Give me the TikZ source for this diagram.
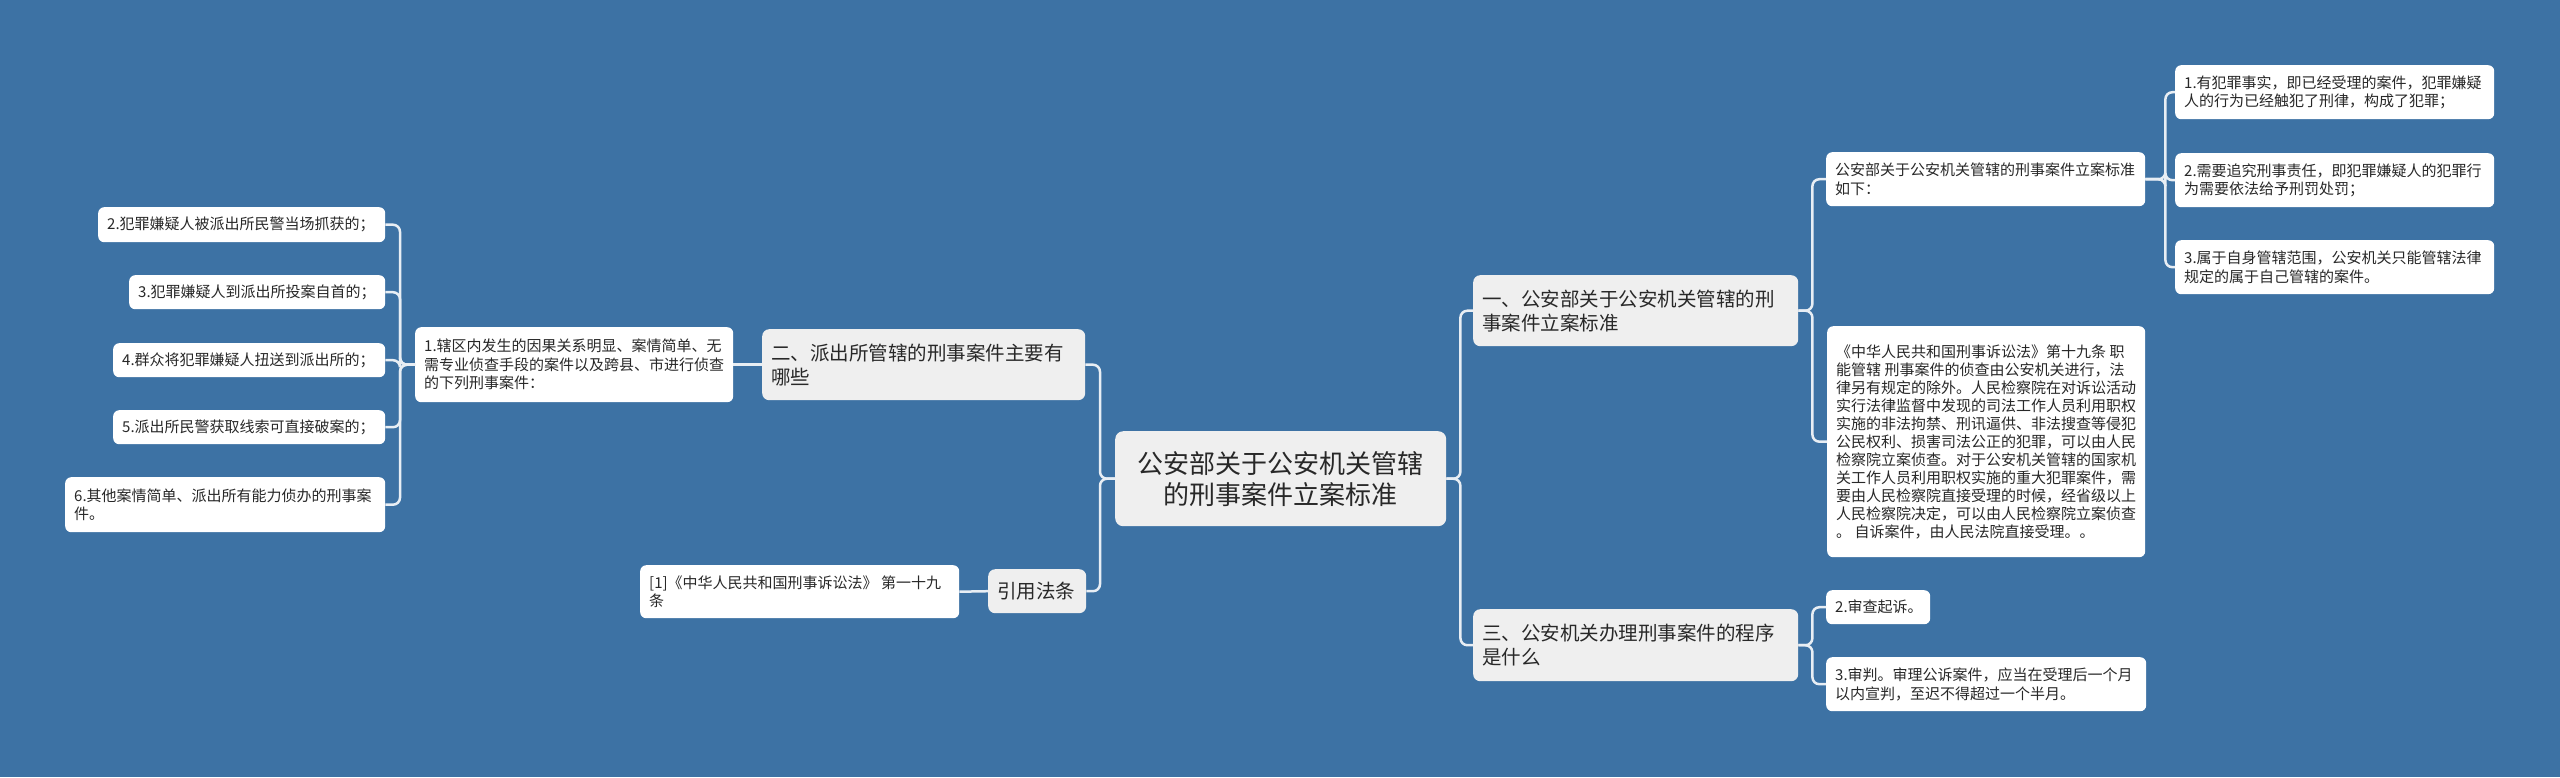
\documentclass[tikz,border=0pt]{standalone}
\usepackage{fontspec}
\newfontfamily\cjk{Noto Sans CJK SC}
\definecolor{bg}{RGB}{61,114,164}
\definecolor{nodegray}{RGB}{239,239,239}
\definecolor{txt}{RGB}{40,40,40}
\definecolor{linec}{RGB}{232,238,244}
\begin{document}
\begin{tikzpicture}[x=1pt,y=-1pt,
  base/.style={rounded corners=6pt, inner xsep=9pt, inner ysep=0pt, anchor=north west, align=flush left, text=txt, font=\cjk\fontsize{15}{18.5}\selectfont},
  leaf/.style={base, fill=white},
  mid/.style={base, fill=nodegray, rounded corners=7pt, font=\cjk\fontsize{19.5}{24}\selectfont},
  conn/.style={draw=linec, line width=2.5pt, rounded corners=7pt}]
\useasboundingbox (0,0) rectangle (2560,777);
\fill[bg] (0,0) rectangle (2560,777);

% root
\node[mid, align=center, rounded corners=8pt, font=\cjk\fontsize{26}{31}\selectfont, text width=313pt, minimum height=95pt] (root) at (1115,431) {公安部关于公安机关管辖\\的刑事案件立案标准};

% right side
\node[mid, text width=307pt, minimum height=71pt] (b1) at (1473,275) {一、公安部关于公安机关管辖的刑\\事案件立案标准};
\node[leaf, text width=301pt, minimum height=54pt] (A) at (1826,152) {公安部关于公安机关管辖的刑事案件立案标准\\如下：};
\node[leaf, text width=301pt, minimum height=54pt] (L1) at (2175,65) {1.有犯罪事实，即已经受理的案件，犯罪嫌疑\\人的行为已经触犯了刑律，构成了犯罪；};
\node[leaf, text width=301pt, minimum height=54pt] (L2) at (2175,153) {2.需要追究刑事责任，即犯罪嫌疑人的犯罪行\\为需要依法给予刑罚处罚；};
\node[leaf, text width=301pt, minimum height=54pt] (L3) at (2175,240) {3.属于自身管辖范围，公安机关只能管辖法律\\规定的属于自己管辖的案件。};
\node[leaf, text width=300pt, minimum height=231pt, font=\cjk\fontsize{15}{18}\selectfont] (B) at (1827,326) {《中华人民共和国刑事诉讼法》第十九条 职\\能管辖 刑事案件的侦查由公安机关进行，法\\律另有规定的除外。人民检察院在对诉讼活动\\实行法律监督中发现的司法工作人员利用职权\\实施的非法拘禁、刑讯逼供、非法搜查等侵犯\\公民权利、损害司法公正的犯罪，可以由人民\\检察院立案侦查。对于公安机关管辖的国家机\\关工作人员利用职权实施的重大犯罪案件，需\\要由人民检察院直接受理的时候，经省级以上\\人民检察院决定，可以由人民检察院立案侦查\\。 自诉案件，由人民法院直接受理。。};
\node[mid, text width=307pt, minimum height=72pt] (b3) at (1473,609) {三、公安机关办理刑事案件的程序\\是什么};
\node[leaf, text width=86pt, minimum height=34pt] (C1) at (1826,590) {2.审查起诉。};
\node[leaf, text width=302pt, minimum height=54pt] (C2) at (1826,657) {3.审判。审理公诉案件，应当在受理后一个月\\以内宣判，至迟不得超过一个半月。};

% left side
\node[mid, text width=305pt, minimum height=71pt] (b2) at (762,329) {二、派出所管辖的刑事案件主要有\\哪些};
\node[leaf, text width=300pt, minimum height=75pt] (D) at (415,327) {1.辖区内发生的因果关系明显、案情简单、无\\需专业侦查手段的案件以及跨县、市进行侦查\\的下列刑事案件：};
\node[leaf, text width=269pt, minimum height=35pt] (E2) at (98,207) {2.犯罪嫌疑人被派出所民警当场抓获的；};
\node[leaf, text width=238pt, minimum height=34pt] (E3) at (129,275) {3.犯罪嫌疑人到派出所投案自首的；};
\node[leaf, text width=254pt, minimum height=34pt] (E4) at (113,343) {4.群众将犯罪嫌疑人扭送到派出所的；};
\node[leaf, text width=254pt, minimum height=34pt] (E5) at (113,410) {5.派出所民警获取线索可直接破案的；};
\node[leaf, text width=302pt, minimum height=55pt] (E6) at (65,477) {6.其他案情简单、派出所有能力侦办的刑事案\\件。};
\node[mid, text width=80pt, minimum height=44pt] (cite) at (988,569) {引用法条};
\node[leaf, text width=301pt, minimum height=53pt] (F) at (640,565) {[1]《中华人民共和国刑事诉讼法》 第一十九\\条};

% connectors
\draw[conn] (root.west) -- ++(-15,0) |- (b2.east);
\draw[conn] (root.west) -- ++(-15,0) |- (cite.east);
\draw[conn] (root.east) -- ++(14,0) |- (b1.west);
\draw[conn] (root.east) -- ++(14,0) |- (b3.west);
\draw[conn] (b1.east) -- ++(14,0) |- (A.west);
\draw[conn] (b1.east) -- ++(14,0) |- (B.west);
\draw[conn] (A.east) -- ++(20,0) |- (L1.west);
\draw[conn] (A.east) -- ++(20,0) |- (L2.west);
\draw[conn] (A.east) -- ++(20,0) |- (L3.west);
\draw[conn] (b3.east) -- ++(14,0) |- (C1.west);
\draw[conn] (b3.east) -- ++(14,0) |- (C2.west);
\draw[conn] (b2.west) -- (D.east);
\draw[conn] (D.west) -- ++(-15,0) |- (E2.east);
\draw[conn] (D.west) -- ++(-15,0) |- (E3.east);
\draw[conn] (D.west) -- ++(-15,0) |- (E4.east);
\draw[conn] (D.west) -- ++(-15,0) |- (E5.east);
\draw[conn] (D.west) -- ++(-15,0) |- (E6.east);
\draw[conn] (cite.west) -- (F.east);
\end{tikzpicture}
\end{document}
